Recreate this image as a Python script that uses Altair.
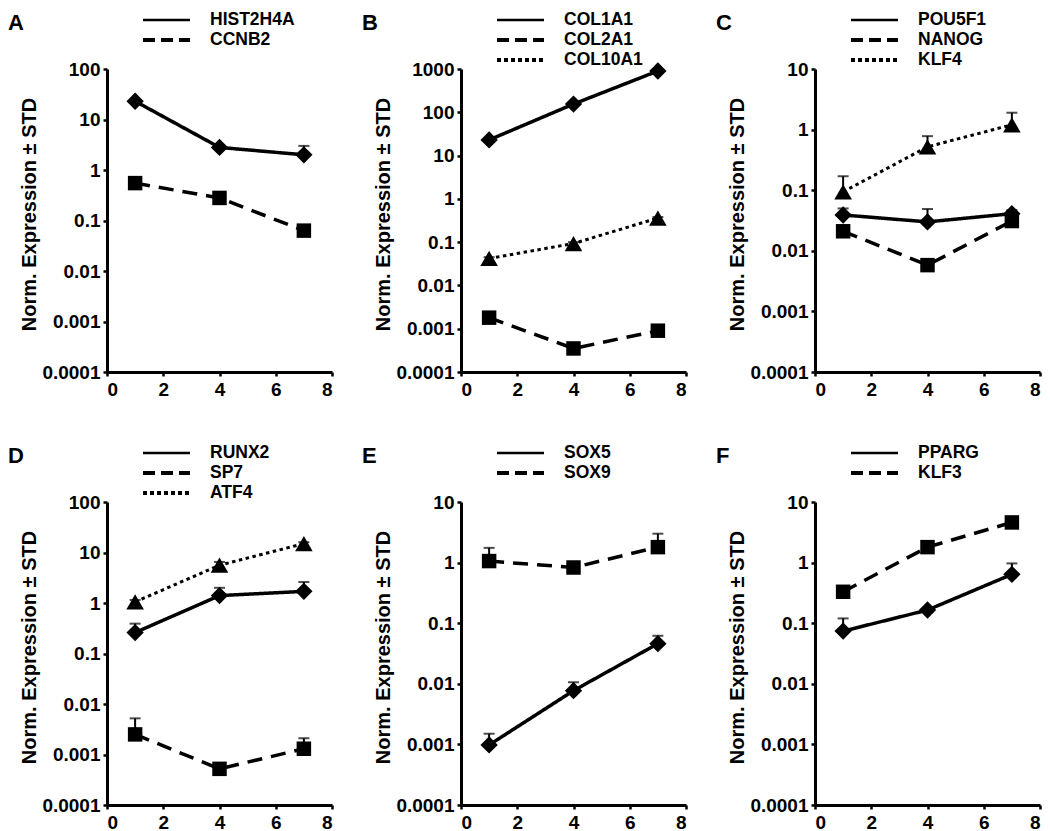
import altair as alt
import pandas as pd

FONT = "Liberation Sans"

DAYS = [1, 4, 7]
X_TICKS = [0, 2, 4, 6, 8]
Y_TICKS = [0.0001, 0.001, 0.01, 0.1, 1, 10, 100, 1000]

# Panel A
A_GENES = ["HIST2H4A", "CCNB2"]
A_HIST2H4A = [23.0, 2.8, 2.0]
A_HIST2H4A_UP = [24.5, 3.0, 3.0]
A_CCNB2 = [0.55, 0.28, 0.063]
A_CCNB2_UP = [0.62, 0.31, 0.07]

# Panel B
B_GENES = ["COL1A1", "COL2A1", "COL10A1"]
B_COL1A1 = [23.0, 155.0, 900.0]
B_COL1A1_UP = [25.0, 165.0, 950.0]
B_COL2A1 = [0.0018, 0.00035, 0.0009]
B_COL2A1_UP = [0.0021, 0.0004, 0.001]
B_COL10A1 = [0.042, 0.093, 0.36]
B_COL10A1_UP = [0.045, 0.1, 0.38]

# Panel C
C_GENES = ["POU5F1", "NANOG", "KLF4"]
C_POU5F1 = [0.039, 0.030, 0.041]
C_POU5F1_UP = [0.05, 0.049, 0.047]
C_NANOG = [0.021, 0.0058, 0.031]
C_NANOG_UP = [0.024, 0.0065, 0.035]
C_KLF4 = [0.094, 0.52, 1.2]
C_KLF4_UP = [0.17, 0.78, 1.9]

# Panel D
D_GENES = ["RUNX2", "SP7", "ATF4"]
D_RUNX2 = [0.26, 1.4, 1.7]
D_RUNX2_UP = [0.39, 2.0, 2.6]
D_SP7 = [0.0025, 0.00052, 0.0013]
D_SP7_UP = [0.0052, 0.00058, 0.0021]
D_ATF4 = [1.05, 5.6, 15.0]
D_ATF4_UP = [1.15, 6.5, 16.0]

# Panel E
E_GENES = ["SOX5", "SOX9"]
E_SOX5 = [0.00098, 0.0077, 0.046]
E_SOX5_UP = [0.0015, 0.0106, 0.062]
E_SOX9 = [1.06, 0.83, 1.8]
E_SOX9_UP = [1.75, 0.95, 3.0]

# Panel F
F_GENES = ["PPARG", "KLF3"]
F_PPARG = [0.074, 0.165, 0.64]
F_PPARG_UP = [0.12, 0.18, 0.97]
F_KLF3 = [0.33, 1.8, 4.6]
F_KLF3_UP = [0.38, 2.1, 5.6]

PANELS = [
    ("A", A_GENES, [A_HIST2H4A, A_CCNB2], [A_HIST2H4A_UP, A_CCNB2_UP], 100),
    ("B", B_GENES, [B_COL1A1, B_COL2A1, B_COL10A1], [B_COL1A1_UP, B_COL2A1_UP, B_COL10A1_UP], 1000),
    ("C", C_GENES, [C_POU5F1, C_NANOG, C_KLF4], [C_POU5F1_UP, C_NANOG_UP, C_KLF4_UP], 10),
    ("D", D_GENES, [D_RUNX2, D_SP7, D_ATF4], [D_RUNX2_UP, D_SP7_UP, D_ATF4_UP], 100),
    ("E", E_GENES, [E_SOX5, E_SOX9], [E_SOX5_UP, E_SOX9_UP], 10),
    ("F", F_GENES, [F_PPARG, F_KLF3], [F_PPARG_UP, F_KLF3_UP], 10),
]

STYLES = ["solid", "dashed", "dotted"]
DASH = {"solid": [1, 0], "dashed": [15, 9], "dotted": [3.5, 3.5]}
LEG_DASH = {"solid": [1, 0], "dashed": [12, 6], "dotted": [4, 3]}
LEG_WIDTH = {"solid": 2.5, "dashed": 4, "dotted": 4}
LINE_WIDTH = {"solid": 3.5, "dashed": 3.5, "dotted": 3}
SHAPES = {"solid": "diamond", "dashed": "square", "dotted": "triangle-up"}
SIZES = {"solid": 300, "dashed": 210, "dotted": 310}

W, H = 225, 303
LEG_Y = [-49, -29, -9]


def make_panel(letter, genes, means, ups, ymax):
    rows = []
    for i, g in enumerate(genes):
        for d, m, u in zip(DAYS, means[i], ups[i]):
            rows.append({"gene": g, "style": STYLES[i], "day": d, "mean": m, "upper": u})
    df = pd.DataFrame(rows)
    ticks = [v for v in Y_TICKS if v <= ymax]

    def xch():
        return alt.X("day:Q", scale=alt.Scale(domain=[0, 8], nice=False, zero=False),
                     axis=alt.Axis(values=X_TICKS, title=None, format="d"))

    def ych(field):
        return alt.Y(field, scale=alt.Scale(type="log", domain=[0.0001, ymax], nice=False),
                     axis=alt.Axis(values=ticks, format="~g"),
                     title="Norm. Expression ± STD")

    base = alt.Chart(df)
    layers = []
    for i, g in enumerate(genes):
        s = STYLES[i]
        sub = base.transform_filter(alt.datum.gene == g)
        layers.append(sub.mark_line(color="black", strokeWidth=LINE_WIDTH[s], strokeDash=DASH[s]).encode(
            x=xch(), y=ych("mean:Q")))
    layers.append(base.mark_rule(color="black", strokeWidth=2).encode(
        x=xch(), y=ych("mean:Q"), y2="upper:Q"))
    layers.append(base.mark_tick(color="black", thickness=2, size=11, orient="horizontal").encode(
        x=xch(), y=ych("upper:Q")))
    for i, g in enumerate(genes):
        s = STYLES[i]
        sub = base.transform_filter(alt.datum.gene == g)
        layers.append(sub.mark_point(filled=True, color="black", opacity=1, shape=SHAPES[s],
                                     size=SIZES[s]).encode(x=xch(), y=ych("mean:Q")))

    for i, g in enumerate(genes):
        s = STYLES[i]
        leg = pd.DataFrame({"gene": [g]})
        layers.append(
            alt.Chart(leg).mark_rule(color="black", strokeWidth=LEG_WIDTH[s], strokeDash=LEG_DASH[s]).encode(
                x=alt.value(36), x2=alt.value(83), y=alt.value(LEG_Y[i]))
        )
        layers.append(
            alt.Chart(leg).mark_text(align="left", baseline="middle", font=FONT, fontSize=17.5,
                                     fontWeight="bold", color="black").encode(
                x=alt.value(103), y=alt.value(LEG_Y[i]), text="gene:N")
        )
    layers.append(
        alt.Chart(pd.DataFrame({"panel": [letter]})).mark_text(
            align="left", baseline="middle", font=FONT, fontSize=22, fontWeight="bold", color="black"
        ).encode(x=alt.value(-99), y=alt.value(-46), text="panel:N")
    )
    return alt.layer(*layers).properties(width=W, height=H)


panels = [make_panel(*p) for p in PANELS]
row1 = alt.hconcat(*panels[:3], spacing=28)
row2 = alt.hconcat(*panels[3:], spacing=28)

chart = alt.vconcat(row1, row2, spacing=45).properties(
    padding={"top": 3, "left": 0, "right": 0, "bottom": 0}
).configure_view(
    stroke=None
).configure_axis(
    grid=False,
    domainColor="black",
    domainWidth=3,
    tickColor="black",
    tickWidth=2.5,
    tickSize=4,
    labelFont=FONT,
    labelFontSize=19,
    labelFontWeight="bold",
    labelColor="black",
    titleFont=FONT,
    titleFontSize=20,
    titleFontWeight="bold",
    titleColor="black",
).configure_axisX(labelPadding=4).configure_axisY(labelPadding=3, titlePadding=2, titleY=145)

chart.save("out.html", embed_options={"renderer": "svg", "actions": False})
